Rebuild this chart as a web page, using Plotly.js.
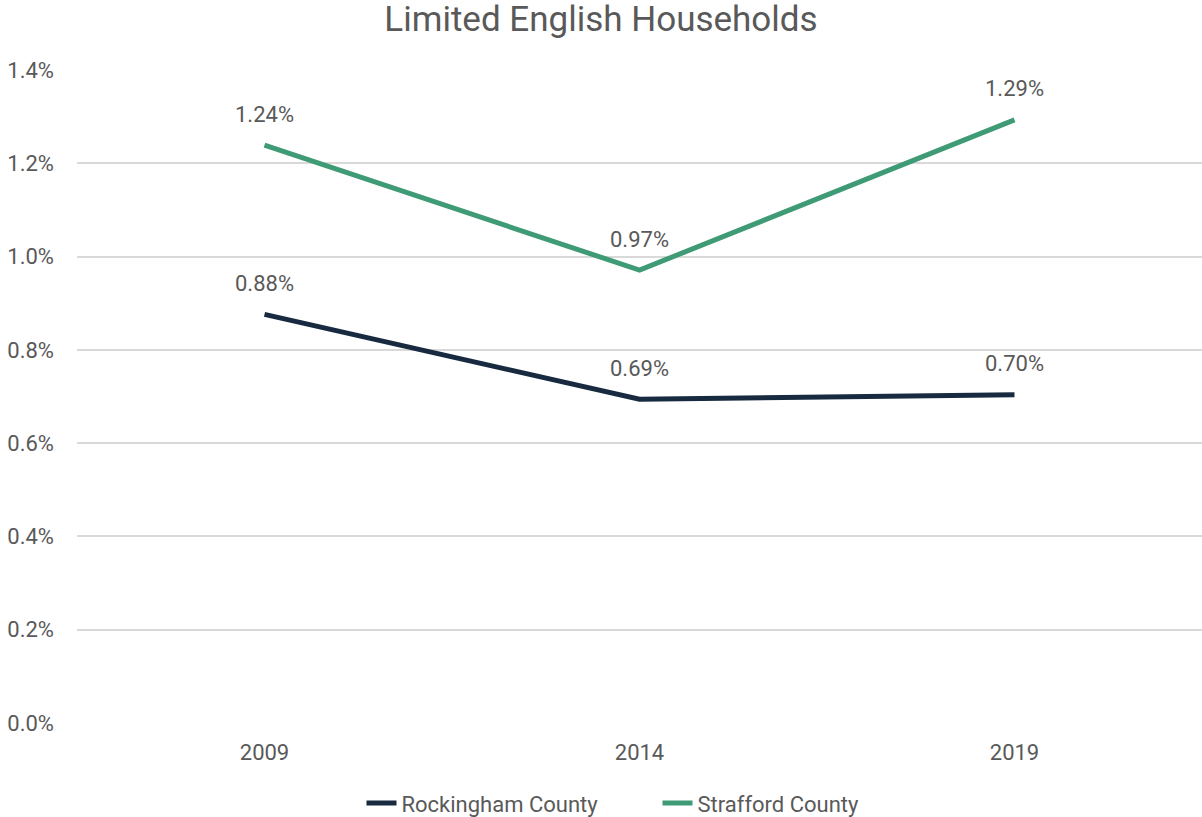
<!DOCTYPE html>
<html>
<head>
<meta charset="utf-8">
<script src="https://cdn.plot.ly/plotly-3.0.1.min.js"></script>
<style>html,body{margin:0;padding:0;background:#fff;}#chart{width:1202px;height:817px;}</style>
</head>
<body>
<div id="chart"></div>
<script>
const years = ["2009", "2014", "2019"];
const rockingham = [0.00876, 0.00694, 0.00704];
const strafford = [0.01239, 0.00971, 0.01293];
const seriesNames = ["Rockingham County", "Strafford County"];
const seriesColors = ["#172a3f", "#3f9b75"];
const yTickVals = [0, 0.002, 0.004, 0.006, 0.008, 0.010, 0.012, 0.014];

const FONT = "Roboto, 'Liberation Sans', sans-serif";
const TXT = "#595959";

const allSeries = [rockingham, strafford];
const traces = allSeries.map((vals, i) => ({
  x: years, y: vals, type: "scatter", mode: "lines",
  name: seriesNames[i],
  line: {color: seriesColors[i], width: 5},
  hoverinfo: "skip"
}));

const annotations = [];
allSeries.forEach(vals => {
  vals.forEach((v, j) => {
    annotations.push({
      x: j, y: v, xref: "x", yref: "y",
      text: (v * 100).toFixed(2) + "%",
      showarrow: false, yshift: 31,
      xanchor: "center", yanchor: "middle",
      font: {family: FONT, size: 22, color: TXT}
    });
  });
});

const layout = {
  width: 1202, height: 817,
  margin: {l: 77, r: 0, t: 70, b: 94},
  paper_bgcolor: "#fff", plot_bgcolor: "#fff",
  title: {text: "Limited English Households", x: 0.5, xanchor: "center", y: 0.9767, yanchor: "middle",
    font: {family: FONT, size: 35, color: TXT}},
  xaxis: {type: "category", range: [-0.5, 2.5], showgrid: false, zeroline: false, showline: false,
    ticks: "", ticklabelstandoff: 14, automargin: false,
    tickfont: {family: FONT, size: 22, color: TXT}},
  yaxis: {range: [0, 0.014], tickvals: yTickVals, tickformat: ".1%", automargin: false,
    showgrid: true, gridcolor: "#d9d9d9", gridwidth: 2, zeroline: false, showline: false,
    ticks: "", ticklabelstandoff: 22,
    tickfont: {family: FONT, size: 22, color: TXT}},
  showlegend: true,
  legend: {orientation: "h", xref: "container", x: 0.547, xanchor: "center", yref: "container", y: 0.017, yanchor: "middle",
    entrywidth: 251, entrywidthmode: "pixels",
    font: {family: FONT, size: 22, color: TXT}},
  annotations: annotations
};

Plotly.newPlot("chart", traces, layout, {displayModeBar: false, staticPlot: true});
</script>
</body>
</html>
